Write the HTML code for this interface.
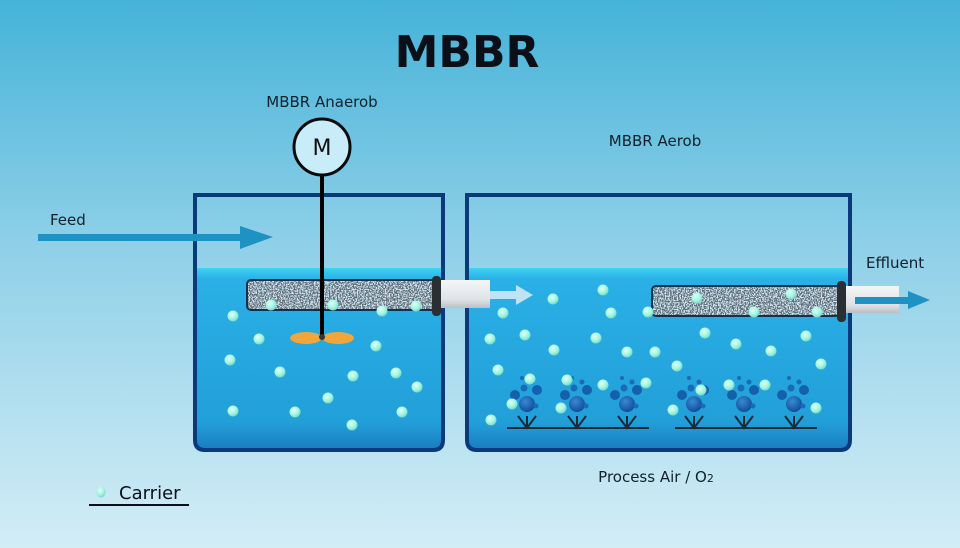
<!DOCTYPE html>
<html><head><meta charset="utf-8"><style>
html,body{margin:0;padding:0;width:960px;height:548px;overflow:hidden}
svg{display:block}
text{font-family:"DejaVu Sans","Liberation Sans",sans-serif}
</style></head><body>
<svg width="960" height="548" viewBox="0 0 960 548" xmlns="http://www.w3.org/2000/svg">
<defs>
<linearGradient id="bg" x1="0" y1="0" x2="0" y2="1">
<stop offset="0" stop-color="#45b3d8"/><stop offset="0.45" stop-color="#8fd0e8"/><stop offset="1" stop-color="#d3edf6"/>
</linearGradient>
<linearGradient id="water" x1="0" y1="0" x2="0" y2="1">
<stop offset="0" stop-color="#3fd3f3"/><stop offset="0.06" stop-color="#2ab0e6"/><stop offset="0.85" stop-color="#229fd8"/><stop offset="1" stop-color="#1a7cc0"/>
</linearGradient>
<radialGradient id="car" cx="0.4" cy="0.35" r="0.7">
<stop offset="0" stop-color="#e0fff8"/><stop offset="0.6" stop-color="#a0f4e0"/><stop offset="1" stop-color="#6cd4c0"/>
</radialGradient>
<radialGradient id="bub" cx="0.4" cy="0.35" r="0.7">
<stop offset="0" stop-color="#3a8ad0"/><stop offset="1" stop-color="#0c4a98"/>
</radialGradient>
<filter id="noise" x="0" y="0" width="100%" height="100%">
<feTurbulence type="fractalNoise" baseFrequency="0.75" numOctaves="2" seed="3"/>
<feColorMatrix type="matrix" values="0 0 0 0 0.12  0 0 0 0 0.15  0 0 0 0 0.18  14 0 0 0 -6.3"/>
<feComposite in2="SourceGraphic" operator="in"/>
</filter>
<linearGradient id="pipe" x1="0" y1="0" x2="0" y2="1">
<stop offset="0" stop-color="#f4f6f7"/><stop offset="0.7" stop-color="#dfe3e6"/><stop offset="1" stop-color="#b8c0c6"/>
</linearGradient>
<g id="c"><circle r="5.5" fill="url(#car)"/></g>
<g id="diff">
<path d="M-9,-12 L0,0 L9,-12 M0,-12 L0,0" stroke="#1a2a3a" stroke-width="2" fill="none"/>
<circle cx="0" cy="-24" r="8" fill="url(#bub)"/>
<circle cx="-12" cy="-33" r="5" fill="#1560ad"/>
<circle cx="10" cy="-38" r="5" fill="#1560ad"/>
<circle cx="-3" cy="-40" r="3.5" fill="#1a6ab8"/>
<circle cx="5" cy="-46" r="2.5" fill="#1a6ab8"/>
<circle cx="-5" cy="-50" r="2" fill="#1a6ab8"/>
<circle cx="9" cy="-22" r="2.5" fill="#1a6ab8"/>
</g>
</defs>
<rect width="960" height="548" fill="url(#bg)"/>

<text x="467" y="67" font-size="44" font-weight="bold" text-anchor="middle" fill="#0a0f18">MBBR</text>
<text x="322" y="107" font-size="15" text-anchor="middle" fill="#10202c">MBBR Anaerob</text>
<text x="655" y="146" font-size="15" text-anchor="middle" fill="#10202c">MBBR Aerob</text>
<text x="50" y="225" font-size="15" fill="#10202c">Feed</text>
<text x="866" y="268" font-size="15" fill="#10202c">Effluent</text>
<text x="656" y="482" font-size="15" text-anchor="middle" fill="#10202c">Process Air / O<tspan font-size="11">2</tspan></text>

<!-- tank 1 -->
<path d="M195,268 H443 V440 Q443,450 433,450 H205 Q195,450 195,440 Z" fill="url(#water)"/>
<path d="M195,195 H443 V440 Q443,450 433,450 H205 Q195,450 195,440 Z" fill="none" stroke="#0b3a7a" stroke-width="4"/>
<!-- tank 2 -->
<path d="M467,268 H850 V440 Q850,450 840,450 H477 Q467,450 467,440 Z" fill="url(#water)"/>
<path d="M467,195 H850 V440 Q850,450 840,450 H477 Q467,450 467,440 Z" fill="none" stroke="#0b3a7a" stroke-width="4"/>

<!-- feed arrow -->
<rect x="38" y="234" width="208" height="7" fill="#1f92c4"/>
<path d="M240,226 L273,237 L240,249 Z" fill="#1f92c4"/>

<!-- screen 1 -->
<rect x="247" y="280" width="190" height="30" rx="4" fill="#cde8f4" stroke="#123050" stroke-width="2"/>
<rect x="248" y="281" width="188" height="28" rx="3" fill="#cde8f4" filter="url(#noise)"/>
<rect x="432" y="276" width="9" height="40" rx="4" fill="#2a2f34"/>
<rect x="441" y="280" width="49" height="28" fill="url(#pipe)"/>
<rect x="490" y="291" width="28" height="8" fill="#bfe2f4"/>
<path d="M516,285 L533,295 L516,305 Z" fill="#bfe2f4"/>

<!-- screen 2 -->
<rect x="652" y="286" width="188" height="30" rx="4" fill="#cde8f4" stroke="#123050" stroke-width="2"/>
<rect x="653" y="287" width="186" height="28" rx="3" fill="#cde8f4" filter="url(#noise)"/>
<rect x="837" y="281" width="9" height="41" rx="4" fill="#2a2f34"/>
<rect x="846" y="286" width="53" height="27" fill="url(#pipe)"/>
<rect x="855" y="297" width="56" height="7" fill="#1f92c4"/>
<path d="M908,291 L930,300 L908,309 Z" fill="#1f92c4"/>

<!-- motor -->
<line x1="322" y1="170" x2="322" y2="338" stroke="#000" stroke-width="4"/>
<circle cx="322" cy="147" r="28" fill="#c8ecf8" stroke="#0a0a0a" stroke-width="3"/>
<text x="322" y="155" font-size="22" text-anchor="middle" fill="#111">M</text>
<ellipse cx="306" cy="338" rx="16" ry="6" fill="#f0a63a"/>
<ellipse cx="338" cy="338" rx="16" ry="6" fill="#f0a63a"/>
<circle cx="322" cy="337" r="3" fill="#333"/>

<!-- diffusers -->
<line x1="507" y1="428" x2="649" y2="428" stroke="#1a2a3a" stroke-width="2"/>
<line x1="675" y1="428" x2="817" y2="428" stroke="#1a2a3a" stroke-width="2"/>
<use href="#diff" x="527" y="428"/><use href="#diff" x="577" y="428"/><use href="#diff" x="627" y="428"/>
<use href="#diff" x="694" y="428"/><use href="#diff" x="744" y="428"/><use href="#diff" x="794" y="428"/>

<!-- carriers tank1 -->
<use href="#c" x="271" y="305"/><use href="#c" x="333" y="305"/><use href="#c" x="382" y="311"/><use href="#c" x="416" y="306"/>
<use href="#c" x="233" y="316"/><use href="#c" x="259" y="339"/><use href="#c" x="376" y="346"/><use href="#c" x="230" y="360"/>
<use href="#c" x="280" y="372"/><use href="#c" x="353" y="376"/><use href="#c" x="396" y="373"/><use href="#c" x="417" y="387"/>
<use href="#c" x="328" y="398"/><use href="#c" x="233" y="411"/><use href="#c" x="295" y="412"/><use href="#c" x="402" y="412"/><use href="#c" x="352" y="425"/>
<!-- carriers tank2 -->
<use href="#c" x="553" y="299"/><use href="#c" x="603" y="290"/><use href="#c" x="503" y="313"/><use href="#c" x="611" y="313"/>
<use href="#c" x="648" y="312"/><use href="#c" x="697" y="298"/><use href="#c" x="754" y="312"/><use href="#c" x="791" y="294"/>
<use href="#c" x="817" y="312"/><use href="#c" x="490" y="339"/><use href="#c" x="525" y="335"/><use href="#c" x="596" y="338"/>
<use href="#c" x="554" y="350"/><use href="#c" x="627" y="352"/><use href="#c" x="655" y="352"/><use href="#c" x="705" y="333"/>
<use href="#c" x="736" y="344"/><use href="#c" x="771" y="351"/><use href="#c" x="806" y="336"/><use href="#c" x="498" y="370"/>
<use href="#c" x="821" y="364"/><use href="#c" x="677" y="366"/><use href="#c" x="530" y="379"/><use href="#c" x="567" y="380"/>
<use href="#c" x="603" y="385"/><use href="#c" x="646" y="383"/><use href="#c" x="701" y="390"/><use href="#c" x="729" y="385"/>
<use href="#c" x="765" y="385"/><use href="#c" x="512" y="404"/><use href="#c" x="561" y="408"/><use href="#c" x="673" y="410"/>
<use href="#c" x="816" y="408"/><use href="#c" x="491" y="420"/>

<!-- legend -->
<ellipse cx="101" cy="492" rx="4.5" ry="5.5" fill="url(#car)"/>
<text x="119" y="499" font-size="18" fill="#0a0f18">Carrier</text>
<line x1="89" y1="505" x2="189" y2="505" stroke="#0a0f18" stroke-width="2"/>
</svg>
</body></html>
